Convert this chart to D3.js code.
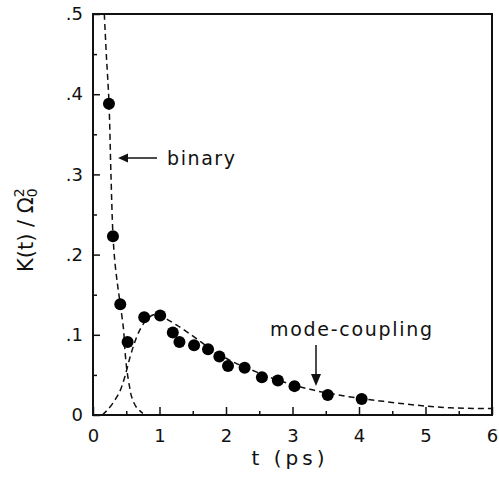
<!DOCTYPE html>
<html>
<head>
<meta charset="utf-8">
<script src="https://cdn.jsdelivr.net/npm/d3@7"></script>
<style>
  body { margin: 0; background: #fff; }
  svg { display: block; }
  text { font-family: "DejaVu Sans", sans-serif; fill: #111; }
</style>
</head>
<body>
<svg id="chart" width="499" height="478"></svg>
<script>
// Measured points (t in ps, K/Omega0^2)
const pointT = [0.24, 0.30, 0.41, 0.52, 0.77, 1.01, 1.20, 1.30, 1.52, 1.73, 1.90, 2.03, 2.28, 2.54, 2.78, 3.03, 3.53, 4.04];
const pointK = [0.388, 0.223, 0.138, 0.091, 0.122, 0.124, 0.103, 0.091, 0.087, 0.082, 0.073, 0.061, 0.059, 0.047, 0.043, 0.036, 0.025, 0.020];

// Binary-collision curve (dashed)
const binaryT = [0.17, 0.20, 0.24, 0.27, 0.30, 0.33, 0.37, 0.41, 0.46, 0.48, 0.51, 0.55, 0.58, 0.65, 0.75];
const binaryK = [0.50, 0.45, 0.39, 0.30, 0.225, 0.19, 0.162, 0.138, 0.106, 0.081, 0.056, 0.035, 0.023, 0.010, 0.002];

// Mode-coupling curve (dashed)
const mcT = [0.14, 0.30, 0.43, 0.48, 0.56, 0.66, 0.76, 0.91, 0.98, 1.06, 1.26, 1.51, 1.76, 2.11, 2.36, 2.66, 3.26, 3.76, 4.37, 5.02, 5.37, 6.0];
const mcK = [0.0, 0.015, 0.035, 0.048, 0.073, 0.098, 0.114, 0.125, 0.126, 0.122, 0.112, 0.098, 0.083, 0.066, 0.057, 0.047, 0.032, 0.024, 0.017, 0.011, 0.009, 0.008];

const xTicks = [0, 1, 2, 3, 4, 5, 6];
const xTickLabels = ["0", "1", "2", "3", "4", "5", "6"];
const xMinorTicks = [0.5, 1.5, 2.5, 3.5, 4.5, 5.5];
const yTicks = [0, 0.1, 0.2, 0.3, 0.4, 0.5];
const yTickLabels = ["0", ".1", ".2", ".3", ".4", ".5"];
const yMinorTicks = [0.05, 0.15, 0.25, 0.35, 0.45];

const svg = d3.select("#chart");
const x = d3.scaleLinear().domain([0, 6]).range([93, 492]);
const y = d3.scaleLinear().domain([0, 0.5]).range([415, 14]);

// clip region
svg.append("clipPath").attr("id", "clip")
  .append("rect").attr("x", 93).attr("y", 14).attr("width", 399).attr("height", 401);

// Axes (ticks inward)
const gx = svg.append("g").attr("transform", `translate(0,${y(0)})`)
  .call(d3.axisBottom(x).tickValues(xTicks).tickSize(-8).tickPadding(14)
    .tickFormat((d, i) => xTickLabels[i]));
gx.select(".domain").remove();
gx.selectAll(".tick line").attr("stroke", "#111").attr("stroke-width", 1.5);
gx.selectAll("text").attr("font-size", 18).attr("fill", "#111").attr("dy", "0.71em");

const gxm = svg.append("g").attr("transform", `translate(0,${y(0)})`)
  .call(d3.axisBottom(x).tickValues(xMinorTicks).tickSize(-4).tickFormat(""));
gxm.select(".domain").remove();
gxm.selectAll(".tick line").attr("stroke", "#111").attr("stroke-width", 1.5);

const gy = svg.append("g").attr("transform", `translate(${x(0)},0)`)
  .call(d3.axisLeft(y).tickValues(yTicks).tickSize(-7).tickPadding(10)
    .tickFormat((d, i) => yTickLabels[i]));
gy.select(".domain").remove();
gy.selectAll(".tick line").attr("stroke", "#111").attr("stroke-width", 1.5);
gy.selectAll("text").attr("font-size", 18).attr("fill", "#111");

const gym = svg.append("g").attr("transform", `translate(${x(0)},0)`)
  .call(d3.axisLeft(y).tickValues(yMinorTicks).tickSize(-4).tickFormat(""));
gym.select(".domain").remove();
gym.selectAll(".tick line").attr("stroke", "#111").attr("stroke-width", 1.5);

// Frame
svg.append("rect")
  .attr("x", x(0)).attr("y", y(0.5))
  .attr("width", x(6) - x(0)).attr("height", y(0) - y(0.5))
  .attr("fill", "none").attr("stroke", "#111").attr("stroke-width", 2);

// Curves
const line = d3.line().x(d => x(d[0])).y(d => y(d[1])).curve(d3.curveMonotoneX);
const binaryData = binaryT.map((t, i) => [t, binaryK[i]]);
const mcData = mcT.map((t, i) => [t, mcK[i]]);
const lineB = d3.line().x(d => x(d[0])).y(d => y(d[1])).curve(d3.curveCatmullRom.alpha(0.5));

svg.append("path").datum(binaryData).attr("clip-path", "url(#clip)")
  .attr("d", lineB).attr("fill", "none").attr("stroke", "#111")
  .attr("stroke-width", 1.5).attr("stroke-dasharray", "6,4");
svg.append("path").datum(mcData).attr("clip-path", "url(#clip)")
  .attr("d", line).attr("fill", "none").attr("stroke", "#111")
  .attr("stroke-width", 1.5).attr("stroke-dasharray", "6,4");

// Points
svg.append("g").selectAll("circle")
  .data(pointT.map((t, i) => [t, pointK[i]]))
  .join("circle")
  .attr("cx", d => x(d[0])).attr("cy", d => y(d[1])).attr("r", 6)
  .attr("fill", "#000");

// Annotations
// binary arrow
svg.append("line").attr("x1", 157).attr("y1", 158).attr("x2", 124).attr("y2", 158)
  .attr("stroke", "#111").attr("stroke-width", 1.5);
svg.append("path").attr("d", "M118,158 L128,153.5 L128,162.5 Z").attr("fill", "#111");
svg.append("text").attr("x", 167).attr("y", 165).attr("font-size", 19)
  .attr("textLength", 68).attr("lengthAdjust", "spacing").text("binary");

// mode-coupling arrow
svg.append("line").attr("x1", 316).attr("y1", 345).attr("x2", 316).attr("y2", 377)
  .attr("stroke", "#111").attr("stroke-width", 1.5);
svg.append("path").attr("d", "M316,386 L311,374 L321,374 Z").attr("fill", "#111");
svg.append("text").attr("x", 270).attr("y", 336).attr("font-size", 19)
  .attr("textLength", 162).attr("lengthAdjust", "spacing").text("mode-coupling");

// Axis titles
svg.append("text").attr("x", 288).attr("y", 465).attr("text-anchor", "middle")
  .attr("font-size", 20).attr("textLength", 73).attr("lengthAdjust", "spacing").text("t (ps)");

const yl = svg.append("text")
  .attr("transform", "translate(33,272) rotate(-90)")
  .attr("font-size", 21);
yl.append("tspan").text("K(t) / Ω");
yl.append("tspan").attr("font-size", 14).attr("dy", -9).text("2");
yl.append("tspan").attr("font-size", 14).attr("dx", -9).attr("dy", 13).text("0");
</script>
</body>
</html>
